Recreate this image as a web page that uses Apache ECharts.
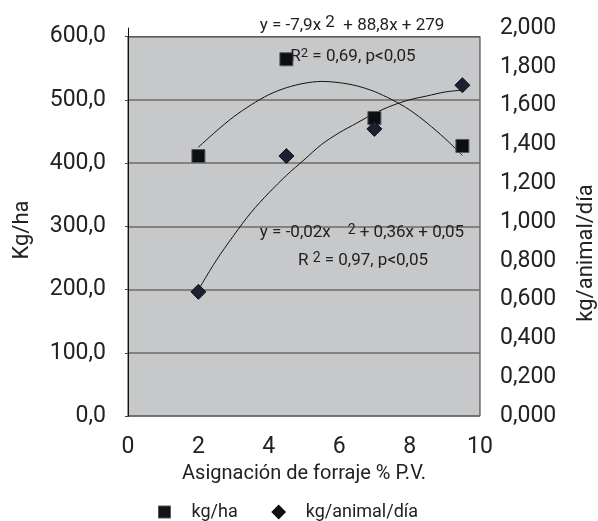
<!DOCTYPE html>
<html>
<head>
<meta charset="utf-8">
<script src="https://cdn.jsdelivr.net/npm/echarts@6/dist/echarts.min.js"></script>
<style>html,body{margin:0;padding:0;background:#fff}#c{width:598px;height:521px}</style>
</head>
<body>
<div id="c"></div>
<script>
// Data
const xVals = [2, 4.5, 7, 9.5];
const kgHa = [411, 564, 471, 427];
const kgAnimal = [0.64, 1.34, 1.48, 1.705];
const trendX = [2, 2.5, 3, 3.5, 4, 4.5, 5, 5.5, 6, 6.5, 7, 7.5, 8, 8.5, 9, 9.5];
const trendKgHa = [425, 450, 473, 492, 508, 519, 526, 529, 527, 522, 513, 500, 484, 463, 439, 412];
const trendKgAnimal = [0.65, 0.80, 0.93, 1.05, 1.15, 1.24, 1.32, 1.40, 1.46, 1.51, 1.56, 1.60, 1.63, 1.65, 1.67, 1.68];
const leftTicks = { min: 0, max: 600, interval: 100 };
const rightTicks = { min: 0, max: 2, interval: 0.2 };
const xTicks = { min: 0, max: 10, interval: 2 };

const FONT = 'Roboto, "Liberation Sans", sans-serif';
const TXT = '#222';

const chart = echarts.init(document.getElementById('c'));
const pair = (xs, ys) => xs.map((x, i) => [x, ys[i]]);

chart.setOption({
  animation: false,
  textStyle: { fontFamily: FONT },
  grid: [
    { left: 128, right: 118, top: 36.5, bottom: 105, show: true, backgroundColor: '#c7c8ca', borderColor: '#333', borderWidth: 1 },
    { left: 128, right: 118, top: 28, bottom: 105, show: false }
  ],
  xAxis: [
    { gridIndex: 0, type: 'value', min: xTicks.min, max: xTicks.max, interval: xTicks.interval,
      axisLine: { show: false }, axisTick: { show: false }, splitLine: { show: false },
      axisLabel: { fontSize: 23, color: TXT, margin: 20, fontFamily: FONT },
      name: 'Asignación de forraje % P.V.', nameLocation: 'middle', nameGap: 35,
      nameTextStyle: { fontSize: 20, color: TXT, fontFamily: FONT } },
    { gridIndex: 1, type: 'value', min: xTicks.min, max: xTicks.max, show: false }
  ],
  yAxis: [
    { gridIndex: 0, type: 'value', min: leftTicks.min, max: leftTicks.max, interval: leftTicks.interval,
      axisLine: { show: true, lineStyle: { color: '#444', width: 1 } },
      axisTick: { show: true, length: 3, lineStyle: { color: '#444' } },
      splitLine: { show: true, lineStyle: { color: '#6b6b6b', width: 1.5 } },
      axisLabel: { fontSize: 23, color: TXT, margin: 22, fontFamily: FONT,
        formatter: v => v.toFixed(1).replace('.', ',') } },
    { gridIndex: 1, type: 'value', position: 'right', min: rightTicks.min, max: rightTicks.max, interval: rightTicks.interval,
      axisLine: { show: true, lineStyle: { color: '#111', width: 1 } },
      axisTick: { show: false },
      splitLine: { show: false },
      axisLabel: { fontSize: 23, color: TXT, margin: 20, fontFamily: FONT,
        formatter: v => v.toFixed(3).replace('.', ',') } }
  ],
  legend: {
    data: [
      { name: 'kg/ha', icon: 'rect', itemStyle: { color: '#111318', borderColor: '#555', borderWidth: 1 } },
      { name: 'kg/animal/día', icon: 'diamond', itemStyle: { color: '#111' } }
    ],
    left: 153, top: 498, itemWidth: 12, itemHeight: 12, itemGap: 34,
    textStyle: { fontSize: 18, color: TXT, fontFamily: FONT, padding: [0, 0, 0, 16] }
  },
  graphic: [
    { type: 'text', x: 22, y: 230, rotation: Math.PI / 2,
      style: { text: 'Kg/ha', fontSize: 22, fill: TXT, fontFamily: FONT, align: 'center', verticalAlign: 'middle' } },
    { type: 'text', x: 586, y: 253, rotation: Math.PI / 2,
      style: { text: 'kg/animal/día', fontSize: 22, fill: TXT, fontFamily: FONT, align: 'center', verticalAlign: 'middle' } },
    { type: 'text', x: 352, y: 23, z: 100,
      style: { text: '{a|y = -7,9x }{s|2}{a|  + 88,8x + 279}', align: 'center', verticalAlign: 'middle',
        rich: { a: { fontSize: 17, fill: TXT, fontFamily: FONT, padding: [6, 0, 0, 0] }, s: { fontSize: 17, fill: TXT, fontFamily: FONT } } } },
    { type: 'text', x: 353, y: 54, z: 100,
      style: { text: '{a|R}{s|2}{a| = 0,69, p<0,05}', align: 'center', verticalAlign: 'middle',
        rich: { a: { fontSize: 17, fill: TXT, fontFamily: FONT, padding: [6, 0, 0, 0] }, s: { fontSize: 13, fill: TXT, fontFamily: FONT } } } },
    { type: 'text', x: 362, y: 230, z: 100,
      style: { text: '{a|y = -0,02x    }{s|2}{a| + 0,36x + 0,05}', align: 'center', verticalAlign: 'middle',
        rich: { a: { fontSize: 17, fill: TXT, fontFamily: FONT, padding: [6, 0, 0, 0] }, s: { fontSize: 14, fill: TXT, fontFamily: FONT } } } },
    { type: 'text', x: 363, y: 258, z: 100,
      style: { text: '{a|R }{s|2}{a| = 0,97, p<0,05}', align: 'center', verticalAlign: 'middle',
        rich: { a: { fontSize: 17, fill: TXT, fontFamily: FONT, padding: [6, 0, 0, 0] }, s: { fontSize: 14, fill: TXT, fontFamily: FONT } } } }
  ],
  series: [
    { name: 'trend kg/ha', type: 'line', xAxisIndex: 0, yAxisIndex: 0, smooth: 0.3, showSymbol: false, symbol: 'none',
      lineStyle: { color: '#111', width: 1 }, data: pair(trendX, trendKgHa), z: 3, silent: true },
    { name: 'trend kg/animal/día', type: 'line', xAxisIndex: 1, yAxisIndex: 1, smooth: 0.3, showSymbol: false, symbol: 'none',
      lineStyle: { color: '#111', width: 1 }, data: pair(trendX, trendKgAnimal), z: 3, silent: true },
    { name: 'kg/ha', type: 'scatter', xAxisIndex: 0, yAxisIndex: 0, symbol: 'rect', symbolSize: 13,
      itemStyle: { color: '#0b0e13', borderColor: '#555', borderWidth: 1, opacity: 1 }, data: pair(xVals, kgHa), z: 5 },
    { name: 'kg/animal/día', type: 'scatter', xAxisIndex: 1, yAxisIndex: 1, symbol: 'diamond', symbolSize: 15,
      itemStyle: { color: '#1b2033', borderColor: '#111', borderWidth: 1, opacity: 1 }, data: pair(xVals, kgAnimal), z: 5 }
  ]
});
</script>
</body>
</html>
